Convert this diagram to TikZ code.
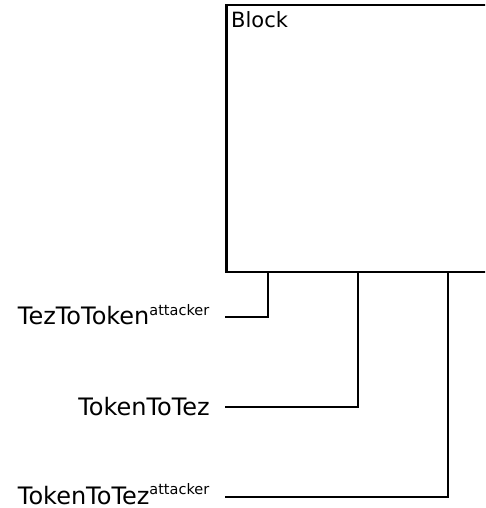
\documentclass[tikz,border=0pt]{standalone}
\usepackage{fontspec}
\setmainfont{DejaVu Sans}
\newcommand{\supatt}{\textsuperscript{\fontsize{14.5}{17}\selectfont attacker}}
\begin{document}
\begin{tikzpicture}[x=1pt,y=1pt,
  conn/.style={line width=2.5pt, line join=miter},
  lab/.style={inner sep=0pt, font=\fontsize{24}{28}\selectfont},
  titlefont/.style={inner sep=0pt, font=\fontsize{21}{25}\selectfont},
  blockbox/.style={draw, line width=2.5pt, minimum width=300pt, minimum height=267pt, anchor=north west, inner sep=0pt}]
\useasboundingbox (0,0) rectangle (485,508);
\clip (0,0) rectangle (485,508);
\node[blockbox] (blk) at (225,504) {};
\node[titlefont, anchor=base west] (blktitle) at (231,480) {Block};
\coordinate (b1) at (268,237);
\coordinate (b2) at (358,237);
\coordinate (b3) at (448,237);
\node[lab, anchor=base east] (l1) at (210,183) {TezToToken\supatt};
\node[lab, anchor=base east] (l2) at (210,92) {TokenToTez};
\node[lab, anchor=base east] (l3) at (210,4) {TokenToTez\supatt};
\coordinate (c1) at (225,191);
\coordinate (c2) at (225,101);
\coordinate (c3) at (225,11);
\draw[conn] (c1) -| (b1);
\draw[conn] (c2) -| (b2);
\draw[conn] (c3) -| (b3);
\end{tikzpicture}
\end{document}
